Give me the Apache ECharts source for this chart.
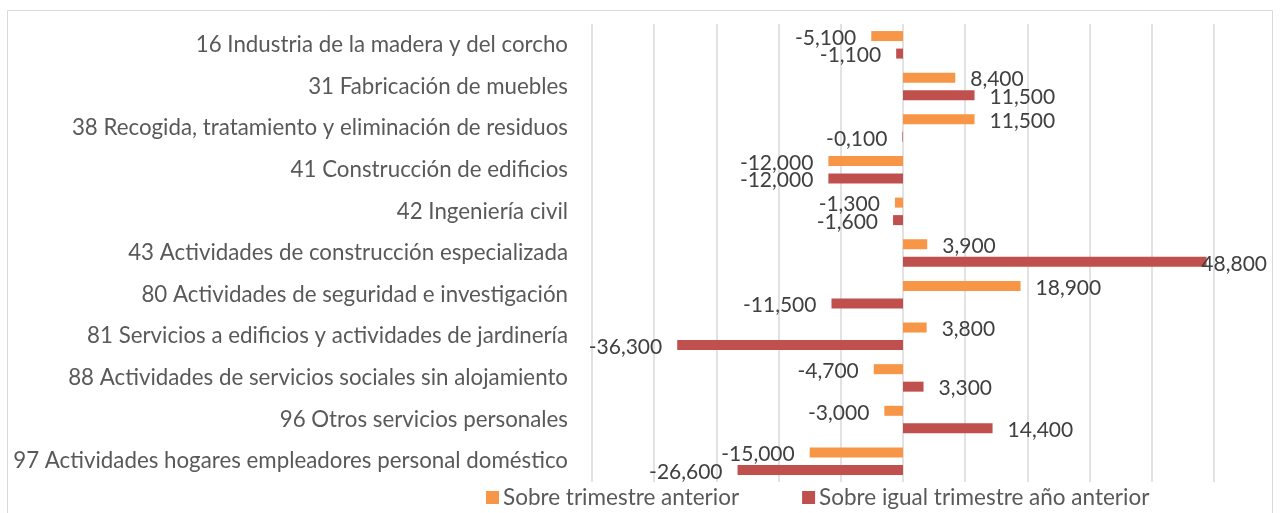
<!DOCTYPE html>
<html>
<head>
<meta charset="utf-8">
<script src="https://cdn.jsdelivr.net/npm/echarts@6/dist/echarts.min.js"></script>
<style>
  html, body { margin: 0; padding: 0; background: #fff; }
  #chart { width: 1280px; height: 513px; }
</style>
</head>
<body>
<div id="chart"></div>
<script>
// categorias (de arriba a abajo)
const categories = [
    '16 Industria de la madera y del corcho',
    '31 Fabricación de muebles',
    '38 Recogida, tratamiento y eliminación de residuos',
    '41 Construcción de edificios',
    '42 Ingeniería civil',
    '43 Actividades de construcción especializada',
    '80 Actividades de seguridad e investigación',
    '81 Servicios a edificios y actividades de jardinería',
    '88 Actividades de servicios sociales sin alojamiento',
    '96 Otros servicios personales',
    '97 Actividades hogares empleadores personal doméstico'
];
const seriesNames = ['Sobre trimestre anterior', 'Sobre igual trimestre año anterior'];
const trimestreAnterior = [-5.1, 8.4, 11.5, -12.0, -1.3, 3.9, 18.9, 3.8, -4.7, -3.0, -15.0];
const igualTrimestre = [-1.1, 11.5, -0.1, -12.0, -1.6, 48.8, -11.5, -36.3, 3.3, 14.4, -26.6];

const FONT = 'Lato';
const chart = echarts.init(document.getElementById('chart'));

function fmt(v) {
    return v.toFixed(3).replace('.', ',');
}

function barSeries(name, values, color) {
    return {
        name: name,
        type: 'bar',
        barWidth: 10,
        barGap: '75%',
        itemStyle: { color: color },
        data: values.map(v => ({ value: v, label: { position: v < 0 ? 'left' : 'right' } })),
        label: {
            show: true,
            distance: 15,
            color: '#404040',
            fontFamily: FONT,
            fontSize: 21,
            formatter: p => fmt(p.value)
        },
        // como Excel: la etiqueta no se sale del área del gráfico
        labelLayout: function (params) {
            const r = params.labelRect;
            const limit = 1267;
            const out = { dy: 2 };
            if (r.x + r.width > limit) {
                out.dx = limit - (r.x + r.width);
            }
            return out;
        }
    };
}

chart.setOption({
    animation: false,
    graphic: [{
        type: 'rect',
        shape: { x: 7.5, y: 10.5, width: 1265, height: 510 },
        style: { fill: 'none', stroke: '#d9d9d9', lineWidth: 1 },
        silent: true
    }],
    legend: {
        left: 481,
        top: 481,
        itemWidth: 13,
        itemHeight: 13,
        itemGap: 63,
        icon: 'rect',
        textStyle: { fontFamily: FONT, fontSize: 22.5, color: '#595959', padding: [0, 0, 0, -1] },
        data: seriesNames
    },
    grid: { left: 592, right: 66, top: 24, bottom: 31 },
    xAxis: {
        type: 'value',
        min: -50,
        max: 50,
        interval: 10,
        axisLabel: { show: false },
        axisLine: { show: false },
        axisTick: { show: false },
        splitLine: { lineStyle: { color: '#d9d9d9', width: 1.5 } }
    },
    yAxis: {
        type: 'category',
        inverse: true,
        data: categories,
        axisLine: { show: false, onZero: false },
        axisTick: { show: false },
        axisLabel: { margin: 24, color: '#595959', fontFamily: FONT, fontSize: 22.3 }
    },
    series: [
        barSeries(seriesNames[0], trimestreAnterior, '#F79646'),
        barSeries(seriesNames[1], igualTrimestre, '#C0504D')
    ]
});
</script>
</body>
</html>
